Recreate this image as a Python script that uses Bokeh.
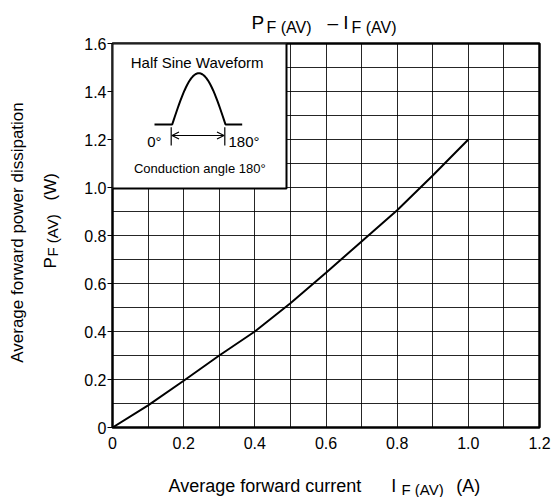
import numpy as np
from bokeh.plotting import figure
from bokeh.models import Range1d, FixedTicker, Label, Arrow, OpenHead
from bokeh.embed import file_html
from bokeh.resources import INLINE

# ---- data ----
current = [0.0, 0.1, 0.2, 0.3, 0.4, 0.5, 0.6, 0.7, 0.8, 0.9, 1.0]
power = [0.0, 0.092, 0.195, 0.300, 0.400, 0.518, 0.645, 0.775, 0.905, 1.05, 1.2]

x_ticks = [0, 0.2, 0.4, 0.6, 0.8, 1.0, 1.2]
x_tick_labels = ["0", "0.2", "0.4", "0.6", "0.8", "1.0", "1.2"]
y_ticks = [0, 0.2, 0.4, 0.6, 0.8, 1.0, 1.2, 1.4, 1.6]
y_tick_labels = ["0", "0.2", "0.4", "0.6", "0.8", "1.0", "1.2", "1.4", "1.6"]
x_grid = [0.1, 0.2, 0.3, 0.4, 0.5, 0.6, 0.7, 0.8, 0.9, 1.0, 1.1]
y_grid = [0.1, 0.2, 0.3, 0.4, 0.5, 0.6, 0.7, 0.8, 0.9, 1.0, 1.1, 1.2, 1.3, 1.4, 1.5]

FONT = "Liberation Sans"
NB = "\u00a0"

# frame geometry (page pixels)
FL, FR, FT, FB = 112, 539, 43, 427
W, H = 552, 497
XMAX, YMAX = 1.2, 1.6


def px2x(px):
    return (px - FL) * XMAX / (FR - FL)


def py2y(py):
    return (FB - py) * YMAX / (FB - FT)


p = figure(width=W, height=H,
           x_range=Range1d(0, XMAX), y_range=Range1d(0, YMAX),
           output_backend="svg", toolbar_location=None,
           min_border_left=FL, min_border_right=W - FR,
           min_border_top=FT, min_border_bottom=H - FB)
p.background_fill_color = "white"
p.border_fill_color = "white"
p.outline_line_color = "black"
p.outline_line_width = 2.5

p.xgrid.ticker = FixedTicker(ticks=x_grid)
p.ygrid.ticker = FixedTicker(ticks=y_grid)
for g in (p.xgrid, p.ygrid):
    g.grid_line_color = "black"
    g.grid_line_width = 1
    g.grid_line_alpha = 0.85

p.xaxis.ticker = FixedTicker(ticks=x_ticks)
p.xaxis.major_label_overrides = dict(zip(x_ticks, x_tick_labels))
p.yaxis.ticker = FixedTicker(ticks=y_ticks)
p.yaxis.major_label_overrides = dict(zip(y_ticks, y_tick_labels))
for ax in (p.xaxis, p.yaxis):
    ax.axis_line_color = None
    ax.minor_tick_line_color = None
    ax.major_tick_in = 0
    ax.major_label_text_font = FONT
    ax.major_label_text_font_size = "16px"
    ax.major_label_text_color = "black"
p.xaxis.major_tick_out = 0
p.xaxis.major_label_standoff = 9
p.yaxis.major_tick_out = 5
p.yaxis.major_tick_line_color = "black"
p.yaxis.major_label_standoff = 1

# main curve
p.line(current, power, line_color="black", line_width=2)

# ---- inset box ----
p.quad(left=0, right=px2x(286), bottom=py2y(188), top=YMAX,
       fill_color="white", line_color="black", line_width=2)

# half-sine icon
sx0, sx1, base_py, peak_py = 171.7, 225.0, 124.0, 72.7
t = np.linspace(0, np.pi, 40)
wx = np.concatenate([[154.0], sx0 + (sx1 - sx0) * t / np.pi, [241.7]])
wy = np.concatenate([[base_py], base_py - (base_py - peak_py) * np.sin(t), [base_py]])
p.line(px2x(wx), py2y(wy), line_color="black", line_width=2)
for tx in (170.7, 224.3):
    p.segment(x0=px2x(tx), y0=py2y(126.7), x1=px2x(tx), y1=py2y(145),
              line_color="black", line_width=1.2)
p.add_layout(Arrow(start=OpenHead(size=7, line_width=1.2, line_color="black"),
                   end=OpenHead(size=7, line_width=1.2, line_color="black"),
                   x_start=px2x(171.5), y_start=py2y(135),
                   x_end=px2x(223.5), y_end=py2y(135),
                   line_width=1.2, line_color="black"))


def make_label(text, px, py, size, align="left", angle=0.0):
    return Label(x=px2x(px), y=py2y(py), text=text, text_font=FONT,
                 text_font_size=f"{size}px", text_align=align,
                 text_baseline="alphabetic", angle=angle,
                 text_color="black")


def lab(text, px, py, size, align="left", angle=0.0, place=None):
    lbl = make_label(text, px, py, size, align, angle)
    if place is None:
        p.add_layout(lbl)
    else:
        p.add_layout(lbl, place)


# inset texts (inside frame)
lab("Half Sine Waveform", 196.7, 61.7, 15, "center")
lab("0°", 161, 141, 15, "right")
lab("180°", 228, 141, 15, "left")
lab("Conduction angle 180°", 199.3, 168.3, 13, "center")

# ---- title (side panel, not clipped) ----
lab("P" + NB * 12 + "–" + NB + "I", 251, 22, 19, place="above")
lab("F (AV)" + NB * 9 + "F (AV)", 266, 27, 16, place="above")

# ---- x axis label ----
lab("Average forward current" + NB * 6 + "I" + NB * 12 + "(A)", 168, 485, 18, place="below")
lab("F (AV)", 401, 489, 15, place="below")

# ---- y axis label ----
ang = np.pi / 2
lab("Average forward power dissipation", 17, 232, 17, "center", ang, place="left")
lab("P" + NB * 12 + "(W)", 50, 268, 17, "left", ang, place="left")
lab("F (AV)", 52, 256, 15, "left", ang, place="left")

open("out.html", "w").write(file_html(p, INLINE))
